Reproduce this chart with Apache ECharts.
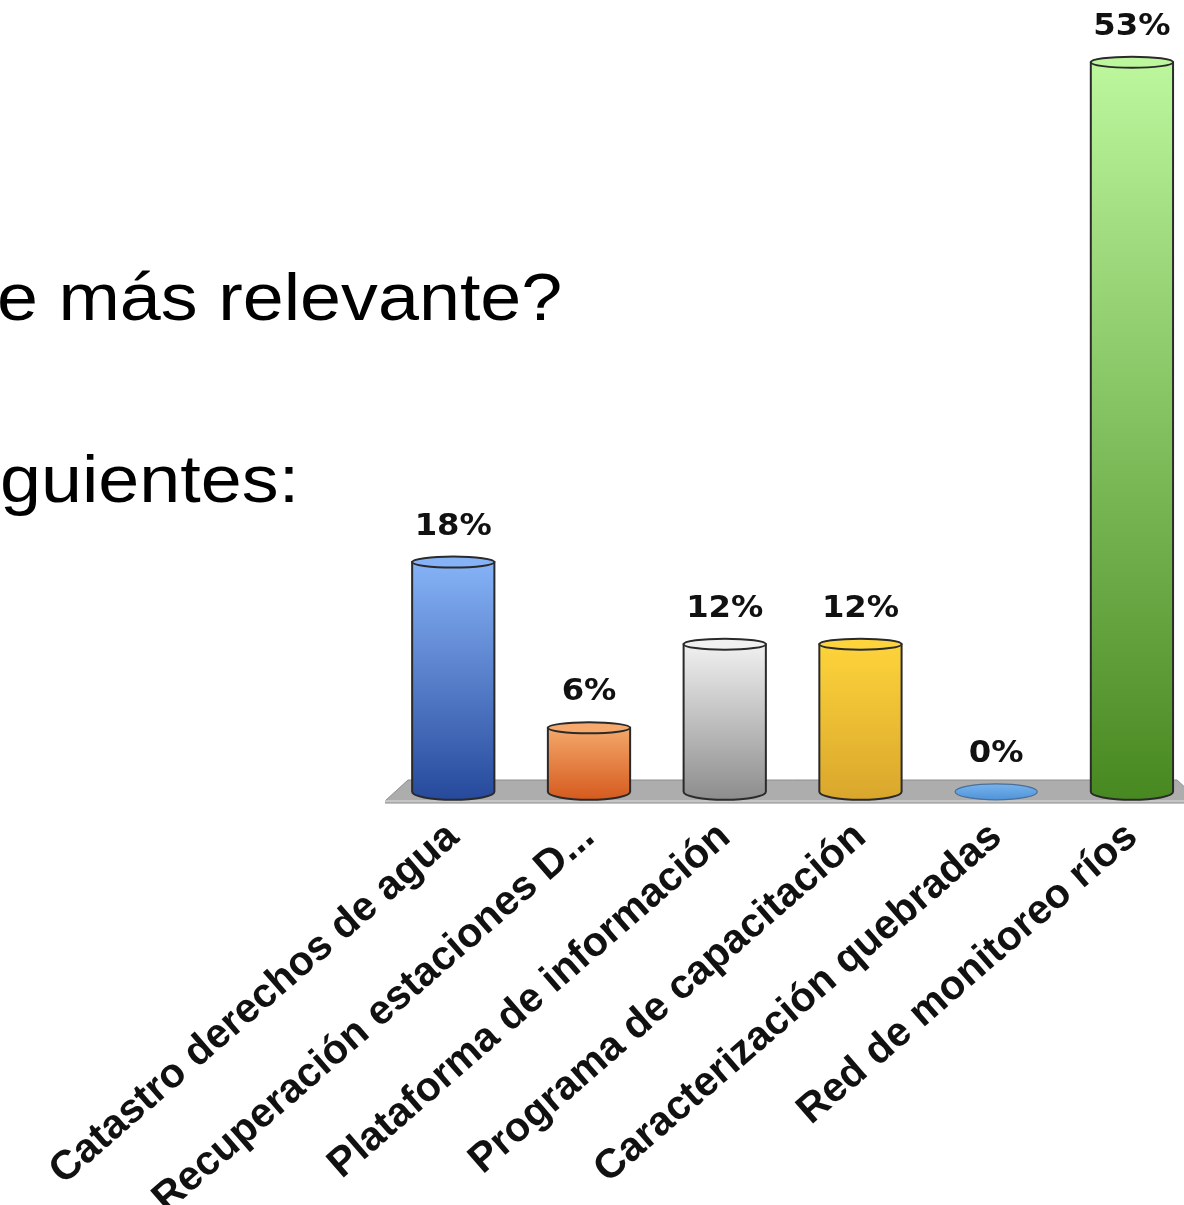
<!DOCTYPE html>
<html><head><meta charset="utf-8">
<script src="https://cdn.jsdelivr.net/npm/echarts@6/dist/echarts.min.js"></script>
<style>html,body{margin:0;padding:0;background:#fff}#chart{width:1184px;height:1205px}</style>
</head><body><div id="chart"></div>
<script>
// ---- data ----
const categories = [
  'Catastro derechos de agua',
  'Recuperación estaciones D...',
  'Plataforma de información',
  'Programa de capacitación',
  'Caracterización quebradas',
  'Red de monitoreo ríos'
];
const values = [17.6, 5.9, 11.8, 11.8, 0, 52.9];
const valueLabels = ['18%', '6%', '12%', '12%', '0%', '53%'];
const headingLines = ['e más relevante?', 'guientes:'];

// ---- styles ----
const palette = [
  ['#86b3f7', '#26499b'],
  ['#f5a96c', '#d5591d'],
  ['#f1f1f1', '#8c8c8c'],
  ['#fdd43b', '#d9a62c'],
  ['#7ab5ee', '#4f92d8'],
  ['#bcf79d', '#488820']
];
const DEPTH = 19.5, RY_B = 8, RY_T = 5.5, STROKE = '#2a2a2a';

function grad(c) {
  return new echarts.graphic.LinearGradient(0, 0, 0, 1, [
    { offset: 0, color: c[0] }, { offset: 1, color: c[1] }
  ]);
}
function ellipsePath(cx, cy, rx, ry) {
  return `M${cx - rx} ${cy}A${rx} ${ry} 0 1 0 ${cx + rx} ${cy}A${rx} ${ry} 0 1 0 ${cx - rx} ${cy}Z`;
}

function renderItem(params, api) {
  const i = params.dataIndex;
  const idx = api.value(0);
  const v = api.value(1);
  const top = api.coord([idx, v]);
  const zero = api.coord([idx, 0]);
  const band = api.size([1, 0])[0];
  const rx = band * 0.303;
  const cx = top[0];
  const yb = zero[1] - DEPTH;
  const l = cx - rx, r = cx + rx;
  const children = [];
  let capTop;
  if (top[1] < yb - 1) {
    const yt = top[1];
    children.push({
      type: 'path',
      shape: { pathData: `M${l} ${yt}L${l} ${yb}A${rx} ${RY_B} 0 0 0 ${r} ${yb}L${r} ${yt}Z` },
      style: { fill: grad(palette[i]), stroke: STROKE, lineWidth: 2 }
    });
    children.push({
      type: 'path',
      shape: { pathData: ellipsePath(cx, yt, rx, RY_T) },
      style: { fill: palette[i][0], stroke: STROKE, lineWidth: 2 }
    });
    capTop = yt - RY_T;
  } else {
    children.push({
      type: 'path',
      shape: { pathData: ellipsePath(cx, yb, rx, RY_B) },
      style: { fill: grad(palette[i]), stroke: '#4a6f98', lineWidth: 1.2 }
    });
    capTop = yb - RY_B;
  }
  children.push({
    type: 'text',
    x: cx, y: capTop - 30, scaleX: 1.04,
    style: {
      text: valueLabels[i], font: 'bold 31px "DejaVu Sans"', fill: '#111',
      align: 'center', verticalAlign: 'middle'
    }
  });
  return { type: 'group', children };
}

const chart = echarts.init(document.getElementById('chart'), null, { renderer: 'canvas' });
chart.setOption({
  backgroundColor: '#ffffff',
  animation: false,
  grid: { left: 385.4, right: -15.8, top: 32.5, bottom: 393.7, containLabel: false, outerBoundsMode: 'none' },
  xAxis: {
    type: 'category', data: categories,
    axisLine: { show: false }, axisTick: { show: false }, splitLine: { show: false },
    axisLabel: {
      interval: 0, rotate: 41, margin: 20,
      fontSize: 41, fontWeight: 'bold', fontFamily: 'Liberation Sans', color: '#111'
    }
  },
  yAxis: { type: 'value', min: 0, max: 55, show: false, splitLine: { show: false } },
  graphic: [
    { type: 'polygon', z: 0,
      shape: { points: [[385, 801], [408, 780], [1177, 780], [1200, 801]] },
      style: { fill: '#adadad', stroke: '#8e8e8e', lineWidth: 1 } },
    { type: 'rect', z: 0, shape: { x: 385, y: 800, width: 815, height: 3 },
      style: { fill: '#c6c6c6' } },
    { type: 'line', z: 0, shape: { x1: 385, y1: 803, x2: 1200, y2: 803 },
      style: { stroke: '#8a8a8a', lineWidth: 1 } },
    { type: 'text', x: -3, y: 302, scaleX: 1.1,
      style: { text: headingLines[0], font: '67px "Liberation Sans"', fill: '#000', verticalAlign: 'middle' } },
    { type: 'text', x: 0, y: 484, scaleX: 1.1,
      style: { text: headingLines[1], font: '67px "Liberation Sans"', fill: '#000', verticalAlign: 'middle' } }
  ],
  series: [{
    type: 'custom', renderItem, clip: false,
    encode: { x: 0, y: 1 },
    data: values.map((v, i) => [i, v])
  }]
});
</script></body></html>
